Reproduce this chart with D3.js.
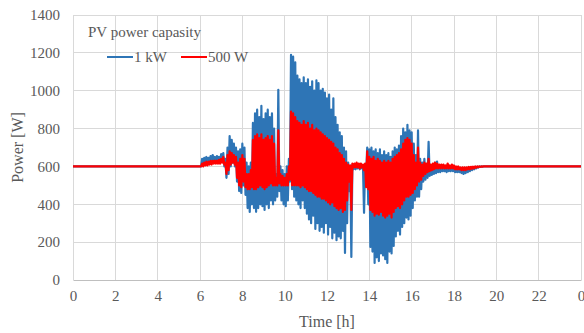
<!DOCTYPE html>
<html><head><meta charset="utf-8">
<script src="https://cdn.jsdelivr.net/npm/d3@7"></script>
<style>
html,body{margin:0;padding:0;background:#fff;}
svg text{font-family:"Liberation Serif","Times New Roman",serif !important;fill:#595959;}
</style></head>
<body><svg id="c" width="584" height="333"></svg>
<script>
// ---- data ----
const xTickValues = [0,2,4,6,8,10,12,14,16,18,20,22,24];
const xTickLabels = ["0","2","4","6","8","10","12","14","16","18","20","22","0"];
const yTickValues = [0,200,400,600,800,1000,1200,1400];
const seriesNames = ["1 kW","500 W"];
const baseLevel = 600;          // constant output outside daylight hours
const dayStart = 6.0, dayStep = 0.1;   // sampling of the daylight arrays (h)
// 1 kW envelope per 0.1 h bin (from 6.0 h)
const blueHi = [600,640,645,650,645,655,660,650,655,650,665,670,640,700,760,740,720,700,680,690,
 720,700,620,600,620,830,880,900,860,920,850,880,900,860,880,800,560,1005,600,580,
 560,600,640,1190,1180,1150,1080,1060,1040,1070,1040,1060,1020,1050,1000,1055,1040,1000,1010,990,
 960,980,900,960,860,820,780,760,700,680,620,605,610,605,615,610,605,600,610,700,
 690,700,680,690,670,690,660,680,660,670,650,680,700,690,710,760,800,780,820,790,
 780,720,660,790,640,620,640,610,730,600,610,620,625,600,605,600,600,610,600,605,
 595,590,590,585,585,590,590,592,594,596,598,599,600,600,600];
const blueLo = [600,610,620,625,625,630,630,625,630,630,630,600,540,560,600,620,600,520,470,460,
 500,450,380,360,400,380,360,380,400,390,370,400,380,420,400,420,440,470,420,400,
 390,420,520,480,440,420,400,380,420,380,350,320,300,340,270,300,260,280,250,300,
 240,280,220,250,210,230,220,260,143,300,470,122,585,585,590,585,590,355,570,400,
 175,150,90,120,100,140,130,110,90,150,140,180,230,260,240,280,300,330,320,340,
 380,420,440,440,480,520,530,540,550,555,560,565,570,570,575,575,570,575,575,575,
 570,570,570,565,560,565,570,575,580,585,590,594,597,599,600];
// 500 W envelope per 0.1 h bin (from 6.0 h)
const redHi = [600,615,620,625,625,630,630,630,630,635,640,650,620,660,680,670,660,650,620,640,
 660,640,560,560,580,740,760,770,750,770,740,750,760,740,760,720,540,790,560,550,
 540,560,600,890,880,860,840,830,820,840,820,830,800,820,790,800,790,780,770,760,
 750,740,730,720,700,690,670,660,640,620,610,605,615,615,620,615,615,610,615,680,
 650,640,650,630,640,630,620,630,620,630,620,640,650,660,670,690,720,740,750,740,
 720,660,620,700,620,610,620,615,640,610,615,620,615,610,610,610,605,615,605,610,
 605,600,600,595,595,595,595,597,598,599,600,600,600,600,600];
const redLo = [600,600,605,605,610,610,615,615,615,615,620,610,560,580,610,620,610,540,500,490,
 520,490,480,480,490,480,480,490,500,490,480,490,500,510,500,500,500,510,500,500,
 500,500,530,500,500,500,500,490,500,490,480,470,470,460,450,440,440,430,430,420,
 410,400,410,390,380,370,380,360,370,420,520,370,595,595,595,590,595,580,490,480,
 370,360,340,350,345,360,340,330,340,350,330,360,380,390,380,400,420,440,440,450,
 460,480,500,520,530,550,560,570,575,580,585,590,590,590,590,590,590,590,590,590,
 585,585,585,580,580,580,585,585,588,590,593,596,598,599,600];

// ---- layout ----
const W = 584, H = 333;
const m = {left:73, right:3, top:15, bottom:53};
const FONT = '"Liberation Serif","Times New Roman",serif';
const svg = d3.select("#c");
const x = d3.scaleLinear().domain([0,24]).range([m.left, W - m.right]);
const y = d3.scaleLinear().domain([0,1400]).range([H - m.bottom, m.top]);

// gridlines
const g = svg.append("g");
g.selectAll("line.h").data(yTickValues.filter(v=>v>0)).enter().append("line")
  .attr("x1", x(0)).attr("x2", x(24)).attr("y1", d=>y(d)).attr("y2", d=>y(d))
  .attr("stroke", "#d9d9d9").attr("stroke-width", 1).attr("shape-rendering","crispEdges");
g.selectAll("line.v").data(xTickValues).enter().append("line")
  .attr("x1", d=>x(d)).attr("x2", d=>x(d)).attr("y1", y(0)).attr("y2", y(1400))
  .attr("stroke", "#d9d9d9").attr("stroke-width", 1).attr("shape-rendering","crispEdges");

// axes
const xAxis = d3.axisBottom(x).tickValues(xTickValues).tickFormat((d,i)=>xTickLabels[i]).tickSize(0).tickPadding(10);
const xa = svg.append("g").attr("transform", `translate(0,${y(0)})`).call(xAxis)
  .attr("font-family", FONT).attr("font-size", 15);
xa.select(".domain").attr("stroke", "#bfbfbf").attr("stroke-width", 1);
xa.selectAll("text").style("font-family", FONT).style("font-size","15px").attr("fill","#595959");
const yAxis = d3.axisLeft(y).tickValues(yTickValues).tickFormat(d3.format("d")).tickSize(0).tickPadding(13);
const ya = svg.append("g").attr("transform", `translate(${x(0)},0)`).call(yAxis)
  .attr("font-family", FONT).attr("font-size", 15);
ya.select(".domain").remove();
ya.selectAll("text").style("font-family", FONT).style("font-size","15px").attr("fill","#595959");

// series paths
function seriesPoints(hi, lo) {
  const pts = [[0, baseLevel]];
  hi.forEach((h, i) => {
    const t = dayStart + i * dayStep;
    pts.push([t, h]);
    pts.push([t + dayStep / 2, lo[i]]);
  });
  pts.push([24, baseLevel]);
  return pts;
}
const line = d3.line().x(d=>x(d[0])).y(d=>y(d[1]));
const colors = ["#2e75b6", "#ff0000"];
svg.append("clipPath").attr("id","pc").append("rect")
  .attr("x", x(0)).attr("y", y(1400)).attr("width", x(24)-x(0)).attr("height", y(0)-y(1400));
svg.append("path").datum(seriesPoints(blueHi, blueLo)).attr("d", line)
  .attr("fill","none").attr("stroke", colors[0]).attr("stroke-width", 2.2)
  .attr("stroke-linejoin","round").attr("clip-path","url(#pc)");
svg.append("path").datum(seriesPoints(redHi, redLo)).attr("d", line)
  .attr("fill","none").attr("stroke", colors[1]).attr("stroke-width", 2.2)
  .attr("stroke-linejoin","round").attr("clip-path","url(#pc)");

// axis titles
svg.append("text").attr("x", (x(0)+x(24))/2).attr("y", 327).attr("text-anchor","middle")
  .style("font-size","16px").text("Time [h]");
svg.append("text").attr("transform", `translate(23,${y(700)}) rotate(-90)`).attr("text-anchor","middle")
  .style("font-size","16px").text("Power [W]");

// legend
svg.append("text").attr("x", 88).attr("y", 37).style("font-size","15px").text("PV power capasity");
const legX = [107, 181];
seriesNames.forEach((n, i) => {
  svg.append("line").attr("x1", legX[i]).attr("x2", legX[i] + 26).attr("y1", 57).attr("y2", 57)
    .attr("stroke", colors[i]).attr("stroke-width", 2);
  svg.append("text").attr("x", legX[i] + 27).attr("y", 62).style("font-size","15px").text(n);
});
</script></body></html>
